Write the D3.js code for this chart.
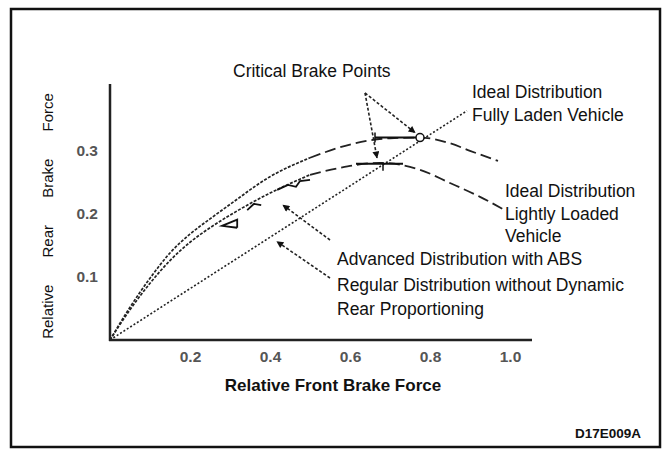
<!DOCTYPE html>
<html>
<head>
<meta charset="utf-8">
<script src="https://cdn.jsdelivr.net/npm/d3@7"></script>
<style>
  html, body { margin: 0; padding: 0; background: #fff; }
  svg { display: block; font-family: "Liberation Sans", Arial, sans-serif; }
</style>
</head>
<body>
<svg id="chart" width="666" height="449"></svg>
<script>
// Ideal distribution, fully laden vehicle
const fullX = [0, 0.05, 0.1, 0.15, 0.2, 0.25, 0.3, 0.4, 0.5, 0.6, 0.7, 0.775, 0.85, 0.9, 0.97];
const fullY = [0, 0.052, 0.098, 0.138, 0.168, 0.192, 0.215, 0.259, 0.289, 0.310, 0.320, 0.321, 0.312, 0.300, 0.284];

// Ideal distribution, lightly loaded vehicle
const lightX = [0, 0.05, 0.1, 0.15, 0.2, 0.25, 0.3, 0.4, 0.5, 0.575, 0.675, 0.775, 0.85, 0.925, 0.99];
const lightY = [0, 0.048, 0.090, 0.126, 0.155, 0.178, 0.198, 0.233, 0.262, 0.273, 0.281, 0.270, 0.249, 0.227, 0.205];

// Regular distribution without dynamic rear proportioning (straight line)
const regularX = [0, 0.8925];
const regularY = [0, 0.3635];

// Advanced distribution with ABS (saw-tooth steps, null = break)
const absX = [0.318, 0.28, 0.318, 0.318, null, 0.343, 0.36, 0.378, null, 0.418, 0.445, 0.465, 0.475, 0.50];
const absY = [0.178, 0.181, 0.191, 0.178, null, 0.206, 0.216, 0.214, null, 0.238, 0.246, 0.243, 0.252, 0.254];

// Critical brake points: [lightly loaded, fully laden]
const critX = [0.675, 0.775];
const critY = [0.281, 0.321];

// Axis ticks
const xTicks = [0.2, 0.4, 0.6, 0.8, 1.0];
const yTicks = [0.1, 0.2, 0.3];

const svg = d3.select("#chart");

const x = d3.scaleLinear().domain([0, 1.05]).range([110, 530]);
const y = d3.scaleLinear().domain([0, 0.406]).range([340, 84]);

const zip = (xs, ys) => xs.map((v, i) => [v, ys[i]]);
const line = d3.line()
  .defined(d => d[0] !== null)
  .x(d => x(d[0])).y(d => y(d[1]));
const curve = d3.line().curve(d3.curveMonotoneX).x(d => x(d[0])).y(d => y(d[1]));

// outer frame
svg.append("rect")
  .attr("x", 11).attr("y", 9).attr("width", 649).attr("height", 438)
  .attr("fill", "none").attr("stroke", "#111").attr("stroke-width", 2.5);

// arrowhead marker
svg.append("defs").append("marker")
  .attr("id", "arrow").attr("viewBox", "0 0 10 10")
  .attr("refX", 9).attr("refY", 5)
  .attr("markerWidth", 10).attr("markerHeight", 7)
  .attr("markerUnits", "userSpaceOnUse")
  .attr("orient", "auto")
  .append("path").attr("d", "M0,0 L10,5 L0,10 Z").attr("fill", "#111");

// axes
const xAxis = d3.axisBottom(x).tickValues(xTicks).tickSize(0).tickPadding(11)
  .tickFormat(d3.format(".1f"));
const yAxis = d3.axisLeft(y).tickValues(yTicks).tickSize(0).tickPadding(12)
  .tickFormat(d3.format(".1f"));

const gx = svg.append("g").attr("transform", "translate(0,340)").call(xAxis);
const gy = svg.append("g").attr("transform", "translate(110,0)").call(yAxis);
[gx, gy].forEach(g => {
  g.select(".domain").remove();
  g.selectAll("text")
    .attr("font-family", "'Liberation Sans', Arial, sans-serif")
    .attr("font-size", 15.5).attr("font-weight", "bold").attr("fill", "#555");
});

svg.append("line").attr("x1", 110).attr("y1", 84).attr("x2", 110).attr("y2", 341)
  .attr("stroke", "#222").attr("stroke-width", 2.5);
svg.append("line").attr("x1", 109).attr("y1", 340).attr("x2", 532).attr("y2", 340)
  .attr("stroke", "#222").attr("stroke-width", 2.5);

// ideal distribution curves: fine dotting near the origin, long dashes further out
function drawIdeal(xs, ys, split) {
  const pts = zip(xs, ys);
  const near = pts.filter(d => d[0] <= split);
  const far = pts.filter(d => d[0] >= split);
  svg.append("path").attr("d", curve(near))
    .attr("fill", "none").attr("stroke", "#222").attr("stroke-width", 1.7)
    .attr("stroke-dasharray", "3,1.5");
  svg.append("path").attr("d", curve(far))
    .attr("fill", "none").attr("stroke", "#222").attr("stroke-width", 1.8)
    .attr("stroke-dasharray", "11,5");
}
drawIdeal(fullX, fullY, 0.5);
drawIdeal(lightX, lightY, 0.5);

// regular distribution line
svg.append("path").attr("d", line(zip(regularX, regularY)))
  .attr("fill", "none").attr("stroke", "#222").attr("stroke-width", 1.6)
  .attr("stroke-dasharray", "2,2");

// ABS stepped distribution
svg.append("path").attr("d", line(zip(absX, absY)))
  .attr("fill", "none").attr("stroke", "#111").attr("stroke-width", 1.8);

// critical points: hold lines
const cLow = [x(critX[0]), y(critY[0])];
const cHigh = [x(critX[1]), y(critY[1])];
svg.append("line").attr("x1", cLow[0] - 24).attr("y1", cLow[1] + 1)
  .attr("x2", cLow[0] + 23).attr("y2", cLow[1] + 1)
  .attr("stroke", "#111").attr("stroke-width", 2);
svg.append("line").attr("x1", cLow[0] + 3).attr("y1", cLow[1] + 1)
  .attr("x2", cLow[0] + 3).attr("y2", cLow[1] + 8)
  .attr("stroke", "#111").attr("stroke-width", 1.5);
svg.append("line").attr("x1", cHigh[0] - 45).attr("y1", cHigh[1])
  .attr("x2", cHigh[0] - 4).attr("y2", cHigh[1])
  .attr("stroke", "#111").attr("stroke-width", 2);
svg.append("line").attr("x1", cHigh[0] - 45).attr("y1", cHigh[1] - 5)
  .attr("x2", cHigh[0] - 45).attr("y2", cHigh[1] + 5)
  .attr("stroke", "#111").attr("stroke-width", 1.5);
svg.append("circle").attr("cx", cHigh[0]).attr("cy", cHigh[1]).attr("r", 4)
  .attr("fill", "#fff").attr("stroke", "#111").attr("stroke-width", 1.5);

// leader lines
const leader = (x1, y1, x2, y2) => svg.append("line")
  .attr("x1", x1).attr("y1", y1).attr("x2", x2).attr("y2", y2)
  .attr("stroke", "#222").attr("stroke-width", 1.6)
  .attr("stroke-dasharray", "3,2").attr("marker-end", "url(#arrow)");

leader(365, 93, cLow[0] - 3, cLow[1] - 5);
leader(365, 93, cHigh[0] - 5, cHigh[1] - 5);
leader(330, 240, x(0.4325), y(0.214));
leader(330, 278, x(0.4175), y(0.156));

// annotation text
const label = (tx, ty, str, opts = {}) => svg.append("text")
  .attr("x", tx).attr("y", ty)
  .attr("font-size", opts.size || 17.5)
  .attr("font-weight", opts.bold ? "bold" : "normal")
  .attr("text-anchor", opts.anchor || "start")
  .attr("fill", "#111")
  .text(str);

label(233, 77, "Critical Brake Points");
label(472, 98, "Ideal Distribution");
label(472, 121, "Fully Laden Vehicle");
label(505, 197, "Ideal Distribution");
label(505, 220, "Lightly Loaded");
label(505, 242, "Vehicle");
label(337, 265, "Advanced Distribution with ABS");
label(337, 291, "Regular Distribution without Dynamic");
label(337, 315, "Rear Proportioning");
label(333, 391, "Relative Front Brake Force", { bold: true, anchor: "middle", size: 17 });
label(641, 438, "D17E009A", { bold: true, anchor: "end", size: 13.5 });

// y axis title, rotated
svg.append("text")
  .attr("transform", "translate(53,216) rotate(-90)")
  .attr("text-anchor", "middle")
  .attr("font-size", 15)
  .attr("word-spacing", 23)
  .attr("fill", "#111")
  .text("Relative Rear Brake Force");
</script>
</body>
</html>
